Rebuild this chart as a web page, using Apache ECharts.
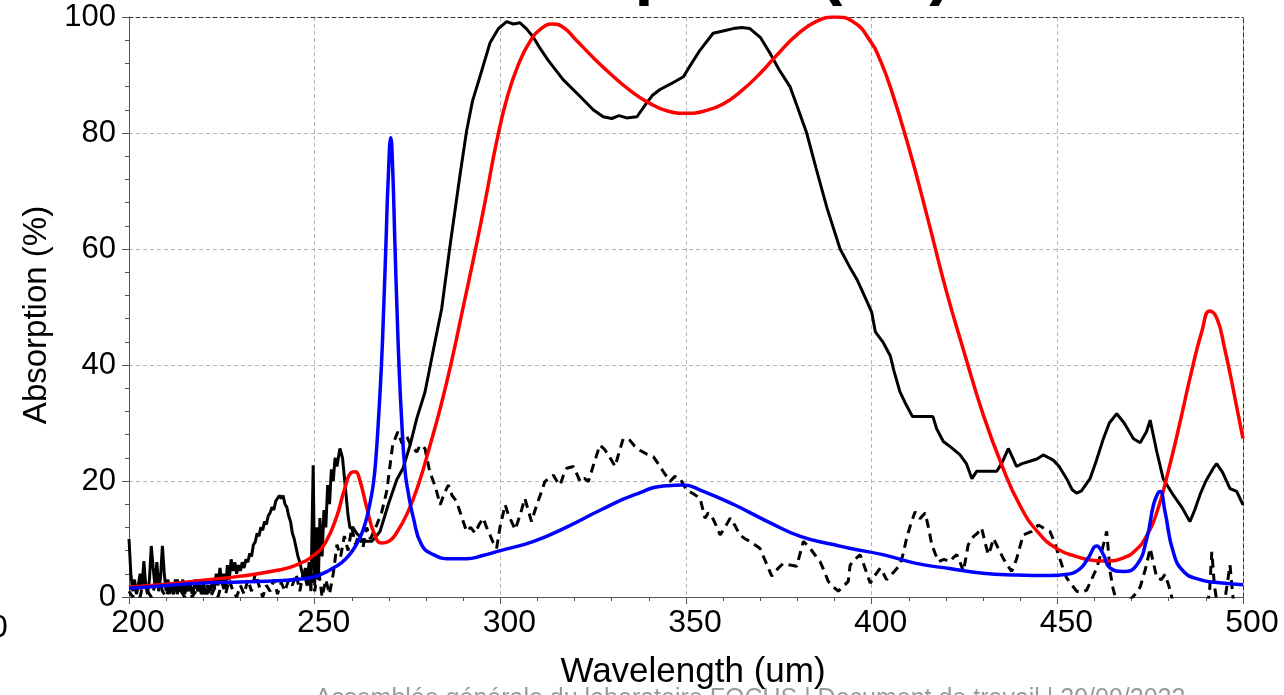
<!DOCTYPE html>
<html>
<head>
<meta charset="utf-8">
<script src="https://cdn.jsdelivr.net/npm/echarts@6/dist/echarts.min.js"></script>
<style>
  html, body { margin: 0; padding: 0; background: #fff; overflow: hidden; }
  #chart { width: 1284px; height: 695px; }
</style>
</head>
<body>
<div id="chart"></div>
<script>
// Measured absorption (solid black)
const measWl = [200,200.5,201,201.5,202,202.5,203,203.5,204,204.5,205,205.5,206,206.5,207,207.5,208,208.5,209,209.5,210,210.5,211,211.5,212,212.5,213,213.5,214,214.5,215,215.5,216,216.5,217,217.5,218,218.5,219,219.5,220,220.5,221,221.5,222,222.5,223,223.5,224,224.5,225,225.5,226,226.5,227,227.5,228,228.5,229,229.5,230,230.5,231,231.5,232,232.5,233,233.5,234,234.5,235,235.5,236,236.5,237,237.5,238,238.5,239,239.5,240,240.5,241,241.5,242,242.5,243,243.5,244,244.5,245,245.5,246,246.5,247,247.5,248,248.5,249,249.6,250,250.5,251,251.4,252,252.5,253,253.5,254,254.5,255,255.5,256,256.8,257.5,258.2,259,259.5,260.3,261.3,262,263,265.4,267.6,269.8,272.1,273.8,275.7,277.5,279.7,282.4,284.2,286.4,289.1,290.9,292.5,294.5,297.2,299.5,301.7,303.5,305.3,307,308.8,310.8,312.8,316.9,321.5,325,327.7,330,332,334,336.8,339.4,341,343,346,349.3,351.5,353.8,357.3,360,362.7,365,367.2,370,372.6,375,378,380,382.5,385,388,391.5,394,396,398,400,401,403,405,406,407.6,409,411,414,416.5,417.5,419.3,421,423.8,425.5,427,428.3,431,433.7,435,436.8,438,439,440.5,442.6,444.5,446.2,448.9,450.5,452.5,454,455.2,456.5,458.8,460.5,462.4,464,466,468,470.5,472.3,474,475,476.8,478.5,481.2,483.5,485.7,487,488.4,490,492,492.9,494.5,496.5,498.3,500];
const measAbs = [10,4,1,3,0.5,2,4,1.5,6.2,2,0.5,3,8.8,5,2,6,1,3.5,8.8,4,1,3,0.5,2.5,1,3,0.5,2,1,3,0.5,2,1,2.5,0.5,1.5,3,1,2,0.5,2.5,1,0.5,2,1,3,1.5,4,2,5,2.5,4,1.5,5.5,3,6.5,4.5,6,4,5.5,4.5,6,5,6.5,6,7.5,7,9,9.5,11,10.5,12,11.5,13,12.5,14,14.5,15.5,15,16.5,16.5,17.5,17,17.5,16,15.5,14,13,11,10,8.5,7,6,4.5,3.5,5,2,6,1,22.7,2,12,3,13.6,7,15,12,19.3,16,22,20,24,22.5,25.6,24,19.3,14,11.9,12,11,10.5,9.6,9.6,11.3,15.9,20.2,22.2,26.2,30.8,35.3,44,49.7,60.3,72.6,80.3,85.5,89.7,95.5,98,99.2,98.8,99,98,96.6,94.5,92.6,89.2,86.3,84,82.8,82.5,83,82.6,82.8,85.2,86.5,87.5,88.5,89.7,92,94.3,97.2,97.6,98,98.2,98,96.5,93.8,91,88,84.5,80,74,67,60,57,54.8,52,49.1,45.7,44,41.6,39,35.4,33.5,31.1,31.1,31.1,29,26.8,26,24.5,23,20.4,21.7,21.7,21.7,23,25.6,24,22.5,23,23.4,23.8,24.5,23.6,22.5,20.4,18.5,17.9,18.3,20.4,23.5,27.3,30,31.6,30,27.3,26.6,28.5,30.5,25,20.4,17.6,15.5,13,15,17.6,20,22.2,23,21.5,18.7,18.2,15.9];

// Second measurement (dashed black)
const refWl = [200,201,202,203,204,205,206,207,208,209,210,211,212,213,214,215,216,217,218,219,220,221,222,223,224,225,226,227,228,229,230,231,232,233,234,235,236,237,238,239,240,241,242,243,244,245,246,247,248,249,250,251,252,253,254,255,256,257,258,259,260,261,262,263,264,265,266.7,268,269.4,271,272.4,273.5,274.8,276,277.5,278.4,279.7,281,282.5,283.8,285,286,287,288.2,289.5,290.9,292,293.2,294.3,295.4,296.3,297.2,298,299,299.9,301.3,302,302.6,304,305.5,306.6,307.5,308.4,309.8,311,312,313.2,314.3,315.2,316.1,317,317.9,319.7,321.5,322.6,323.7,325.2,326.8,328,329.1,330.9,332,333.1,334.9,336.2,337.6,339.5,341.2,342.5,343.9,345.7,347,348.4,350.2,352,353.8,355.1,356,356.9,358,359.2,360.5,361.9,363.2,364.5,366,367.2,369.9,371.5,373.1,374.6,376.2,378,379.8,381.6,383.4,384.8,386.1,387.2,388.3,389.6,391,392.3,393.7,394.2,395.5,396.9,398.2,399.6,401,402.3,403.2,404,405.8,407.6,408.5,409.4,410.5,411.7,413,414.4,415.3,416.2,417.1,418,419.5,421.1,422,422.9,423.8,424.7,426,427.5,428.5,429.6,430.5,431.4,432.1,432.8,434,435.4,436.5,437.7,439,440.8,442,443.1,444.9,446.5,448,449.2,450.3,451.5,452.5,454,455.2,456.5,457.9,459.2,460.6,462,463.3,464.2,465,466,468,469.6,471,472.3,473.8,475,476,476.8,478,479,480,480.8,482,490,491,491.6,492.3,493,495,496.5,497.3,498,500];
const refAbs = [1,0,2,0,3,1,0,2,4,1,0,2,0.5,3,1,0,2,0,1,3,0.5,2,0,1.5,0,2.5,0.5,3,1,0,2,0.5,3,1,4,2,0,2,1,3,0.5,2.5,1,3,2,4,1,4.5,2,5,1,5,0,3,0.5,4,9,7,10.5,8,12,9,11,8.5,12,10,12.4,14.5,18.2,26.2,28.5,26.5,27.7,26,25,26.2,25.6,21.6,19,15.9,18,19.3,17.5,16.5,14,11.3,12,11,12.5,13.6,12,10.7,9.5,8.4,12,15.9,14.5,13.6,11.6,14.5,17,15,13,15.9,18,19.9,20.5,21,20,19.3,21,22.2,22.5,19.9,20.5,19.9,23,26.2,25.5,24.5,22.5,25,27.3,27,26,25.3,24.6,24.2,23,21.6,19.9,20.8,20.4,18.4,17.8,17,13.6,14.5,14,12.5,10.7,12,13.6,12.3,10.7,10,9.6,8.4,6,3.6,4.8,5.8,5.5,5.3,9.6,8.4,7.2,6.1,4.5,2.7,1.8,1,1.8,2.7,5.5,6.5,7.3,5,2.4,3.8,5,4,3,4.2,5.5,7.5,10.1,12.5,14.7,13.5,14.5,12,9,7.5,6.1,6.5,6.1,6.8,7.3,6,4.4,9,10.5,11,11.9,9.5,7.3,8.5,10.1,8.5,6.7,5.5,4.4,6.5,10.7,11,11.3,12.4,11.8,11.3,9.5,7.3,5,3.3,2,1,0.8,1.2,3,5,8,11.3,4.4,1.5,-1,-1,-0.5,0.5,1.7,5,8.4,5.5,3.3,3,3.9,2,0,-3,-3,1,7.8,2,-1,-1,5.5,0,-2,-2];

// Simulated spectrum (red)
const simAWl = [200,210,220,230,240,245,250,253,256,258,260,261,262,264,266,268,270,272,275,278,281,284,287,290,293,296,299,302,305,308,311,314,317,320,325,330,335,340,345,350,355,360,365,370,375,380,385,390,395,400,402,405,410,415,420,425,430,435,440,445,450,455,460,464,468,471,474,477,480,483,486,489,491,493,495,497,500];
const simAAbs = [1.7,2.2,2.9,3.6,4.6,5.5,7.3,9.5,14,18.5,21.5,21.6,20.5,15.5,11,9.3,9.6,11,14.5,19.5,26,33,41,50,59,68.5,78.5,86.5,92,95.8,98,98.8,98.2,96.3,93,90,87.3,85.2,83.8,83.4,83.8,85,87.3,90.3,93.8,97,99.2,100,99.2,95.5,93,88,77.5,65.5,53,42,31.5,22.8,15.7,11,8.3,7,6.3,6.2,6.8,8,10.5,15,22,30,38.5,46,49.3,48,43,37,27.3];

// Simulated spectrum (blue)
const simBWl = [200,210,220,230,240,245,250,253,255,257,259,261,262,263,264,265,265.8,266.5,267.2,268,268.6,269.2,269.8,270.5,271,271.6,272.2,272.7,273.4,274.3,275.2,276.6,278.8,282,286.4,290.9,295,300,309,318,327,336,345,349.3,354,363,372,381,390,394,403,412,421,430,439,448,452.5,456,458.3,460.6,462.4,464.2,467.8,471.4,474.1,475.9,477.2,477.7,479,481.2,484,488.4,493,500];
const simBAbs = [1.5,2,2.4,2.6,2.8,3,3.5,4.3,5,5.8,7,8.8,10,11.5,13.6,16.5,19.5,24,30.8,40.2,50,61,72,79.2,74,61.1,49,40.2,30.8,22,18,13.6,9,7.3,6.6,6.6,7.1,8,9.6,12.1,15,17.6,19.2,19.3,18.4,15.9,13,10.4,9,8.4,7.3,5.8,4.9,4.1,3.8,3.7,3.9,4.8,6.7,8.8,7.3,5,4.4,5.5,10.1,15.9,18,18.2,14.7,7.8,4.4,3,2.5,2.1];

const zip = (xs, ys) => xs.map((x, i) => [x, ys[i]]);

const FONT = 'Liberation Sans, Arial, sans-serif';
const gridDash = { color: '#b4b4b4', type: [4, 3], width: 1 };

const chart = echarts.init(document.getElementById('chart'), null, { renderer: 'canvas' });

chart.setOption({
  animation: false,
  backgroundColor: '#ffffff',
  grid: { left: 129, top: 17, width: 1114, height: 582, containLabel: false },
  xAxis: [{
    type: 'value', min: 200, max: 500, interval: 50,
    name: 'Wavelength (um)', nameLocation: 'middle', nameGap: 58,
    nameTextStyle: { fontFamily: FONT, fontSize: 35, color: '#000', padding: [0, 0, 0, 14] },
    axisLine: { show: true, onZero: false, lineStyle: { color: '#555', width: 1 } },
    axisTick: { show: true, inside: false, length: 7, lineStyle: { color: '#555' } },
    minorTick: { show: true, splitNumber: 5, length: 4, lineStyle: { color: '#555' } },
    axisLabel: { fontFamily: FONT, fontSize: 32, color: '#000', margin: 10, padding: [0, 0, 0, 18] },
    splitLine: { show: true, lineStyle: gridDash }
  }, {
    type: 'value', position: 'top', min: 200, max: 500, interval: 50,
    axisLine: { show: true, onZero: false, lineStyle: { color: '#333', type: [4, 3], width: 1 } },
    axisTick: { show: false }, axisLabel: { show: false }, splitLine: { show: false }
  }],
  yAxis: [{
    type: 'value', min: 0, max: 100, interval: 20,
    name: 'Absorption (%)', nameLocation: 'middle', nameGap: 76, nameRotate: 90,
    nameTextStyle: { fontFamily: FONT, fontSize: 33, color: '#000', padding: [0, 16, 0, 0] },
    axisLine: { show: true, onZero: false, lineStyle: { color: '#555', width: 1 } },
    axisTick: { show: true, inside: false, length: 7, lineStyle: { color: '#555' } },
    minorTick: { show: true, splitNumber: 5, length: 4, lineStyle: { color: '#555' } },
    axisLabel: { fontFamily: FONT, fontSize: 31, color: '#000', margin: 13 },
    splitLine: { show: true, lineStyle: gridDash }
  }, {
    type: 'value', position: 'right', min: 0, max: 100, interval: 20,
    axisLine: { show: true, onZero: false, lineStyle: { color: '#333', type: [4, 3], width: 1 } },
    axisTick: { show: false }, axisLabel: { show: false }, splitLine: { show: false }
  }],
  series: [
    {
      name: 'measured 2', type: 'line', data: zip(refWl, refAbs), showSymbol: false, clip: true,
      lineStyle: { color: '#000', width: 3, type: [9, 6] }, z: 2
    },
    {
      name: 'measured 1', type: 'line', data: zip(measWl, measAbs), showSymbol: false, clip: true,
      lineStyle: { color: '#000', width: 3 }, z: 3
    },
    {
      name: 'sim A', type: 'line', data: zip(simAWl, simAAbs), showSymbol: false, clip: true,
      smooth: 0.5,
      lineStyle: { color: '#ff0000', width: 3.5 }, z: 4
    },
    {
      name: 'sim B', type: 'line', data: zip(simBWl, simBAbs), showSymbol: false, clip: true,
      smooth: 0.5,
      lineStyle: { color: '#0000ff', width: 3.5 }, z: 5
    }
  ],
  graphic: [
    {
      type: 'text', x: 695, y: -61,
      style: { text: 'Absorption (TE)', font: 'bold 68px ' + FONT, fill: '#000', textAlign: 'center', textVerticalAlign: 'top' }
    },
    {
      type: 'text', x: -10, y: 612,
      style: { text: '0', font: '32px ' + FONT, fill: '#000' }
    },
    {
      type: 'text', x: 315, y: 687,
      style: { text: 'Assemblée générale du laboratoire FOCUS | Document de travail | 29/09/2022', font: '25px ' + FONT, fill: '#999' }
    }
  ]
});
</script>
</body>
</html>
